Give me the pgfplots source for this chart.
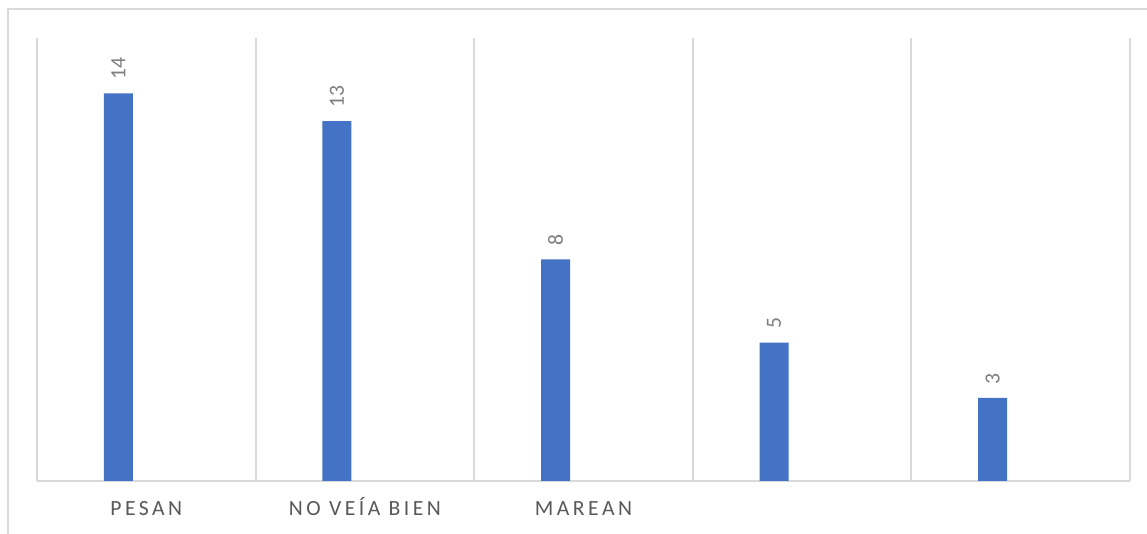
\documentclass[border=0pt]{standalone}
\usepackage{pgfplots}
\pgfplotsset{compat=1.18}
\usepackage{fontspec}
\setmainfont{Carlito}
\newfontfamily\spaced[LetterSpace=16]{Carlito}
\definecolor{barblue}{HTML}{4472C4}
\definecolor{gridgray}{HTML}{D9D9D9}
\definecolor{labelgray}{HTML}{595959}
\definecolor{valuegray}{HTML}{7F7F7F}
\begin{document}
\begin{tikzpicture}
% canvas: 1 px of the layout = 0.6pt
\useasboundingbox (0,0) rectangle (688.2pt,320.4pt);
\fill[white] (0,0) rectangle (688.2pt,320.4pt);
\draw[gridgray, line width=1.2pt] (4.8pt,0pt) -- (4.8pt,314.7pt) -- (688.2pt,314.7pt);
\begin{axis}[
  at={(22.2pt,31.8pt)}, anchor=south west,
  scale only axis, width=655.8pt, height=265.8pt,
  xmin=-0.5, xmax=4.5, ymin=0, ymax=16,
  ybar, bar width=17.4pt, bar shift=-16.8pt,
  axis y line=none,
  axis x line*=bottom,
  x axis line style={gridgray, line width=1.2pt, -},
  xtick={0,1,2,3,4},
  xticklabels={PESAN, NO VEÍA BIEN, MAREAN, {}, {}},
  minor xtick={-0.5,0.5,1.5,2.5,3.5,4.5},
  xminorgrids=true,
  minor grid style={gridgray, line width=1.2pt},
  major tick length=0pt, minor tick length=0pt,
  xticklabel style={font=\spaced\fontsize{13pt}{15pt}\selectfont, text=labelgray, anchor=base, yshift=-21pt},
  nodes near coords,
  /pgf/number format/assume math mode=true,
  every node near coord/.append style={font=\fontsize{13pt}{15pt}\selectfont, text=valuegray, rotate=90, anchor=west, inner xsep=8pt},
]
\addplot[fill=barblue, draw=none] coordinates {(0,14) (1,13) (2,8) (3,5) (4,3)};
\end{axis}
\end{tikzpicture}
\end{document}
